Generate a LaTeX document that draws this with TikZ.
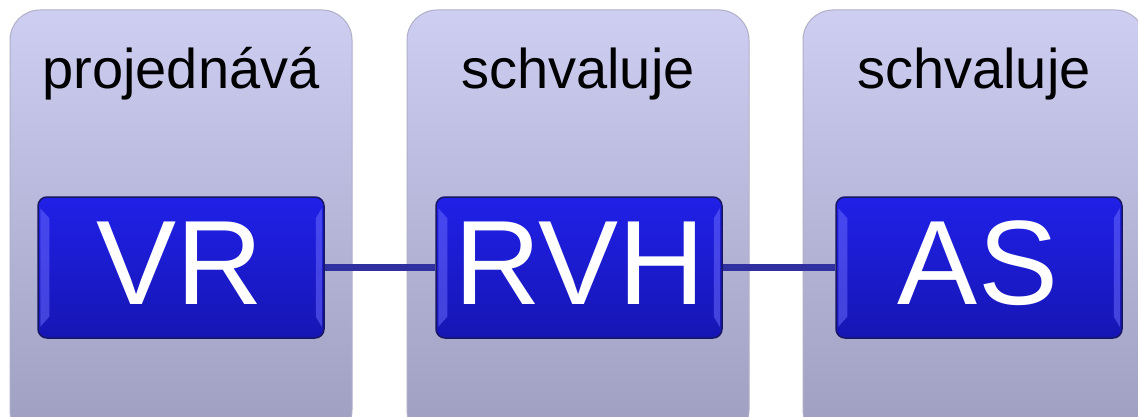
\documentclass[tikz,border=0pt]{standalone}
\usepackage{fontspec}
\setmainfont{Liberation Sans}
\definecolor{coltop}{RGB}{206,206,242}
\definecolor{colbot}{RGB}{158,158,192}
\definecolor{colline}{RGB}{175,175,200}
\definecolor{boxtop}{RGB}{32,32,232}
\definecolor{boxbot}{RGB}{22,22,180}
\definecolor{boxdraw}{RGB}{22,22,100}
\definecolor{linkcol}{RGB}{48,48,160}
\definecolor{bevel}{RGB}{110,110,255}
\begin{document}
\begin{tikzpicture}[x=1pt,y=1pt,
  column/.style={draw=colline, line width=1pt, rounded corners=30pt,
    top color=coltop, bottom color=colbot,
    minimum width=342pt, minimum height=430pt, inner sep=0pt},
  keybox/.style={draw=boxdraw, line width=1.5pt, rounded corners=9pt,
    top color=boxtop, bottom color=boxbot,
    minimum width=286pt, minimum height=141pt, inner sep=0pt},
  keytext/.style={anchor=base, text=white, inner sep=0pt,
    font=\fontsize{120}{124}\selectfont},
  toplabel/.style={anchor=base, text=black, inner sep=0pt,
    font=\fontsize{56}{60}\selectfont},
  link/.style={draw=linkcol, line width=7pt},
  bevelstrip/.style={fill=bevel, opacity=0.5}
]
\useasboundingbox (0,0) rectangle (1138,416);
\clip (0,0) rectangle (1138,416);
\fill[white] (0,0) rectangle (1138,416);
% columns
\node[column] (c1) at (181,191) {};
\node[column] (c2) at (578,191) {};
\node[column] (c3) at (974,191) {};
% labels
\node[toplabel] (l1) at (181,327) {projednává};
\node[toplabel] (l2) at (578,327) {schvaluje};
\node[toplabel] (l3) at (974,327) {schvaluje};
% boxes
\node[keybox] (b1) at (181,148.5) {};
\node[keybox] (b2) at (579,148.5) {};
\node[keybox] (b3) at (979,148.5) {};
% connectors
\draw[link] (b1.east) -- (b2.west);
\draw[link] (b2.east) -- (b3.west);
% bevel highlights
\foreach \b in {b1,b2,b3}{
  \fill[bevelstrip] ([shift={(3,-12)}]\b.north west) -- ([shift={(12,-22)}]\b.north west)
     -- ([shift={(12,22)}]\b.south west) -- ([shift={(3,12)}]\b.south west) -- cycle;
  \fill[bevelstrip] ([shift={(-3,-12)}]\b.north east) -- ([shift={(-9,-22)}]\b.north east)
     -- ([shift={(-9,22)}]\b.south east) -- ([shift={(-3,12)}]\b.south east) -- cycle;
}
% box texts
\node[keytext] (t1) at (180,112) {VR};
\node[keytext] (t2) at (580,112) {RVH};
\node[keytext] (t3) at (978,112) {AS};
\end{tikzpicture}
\end{document}
